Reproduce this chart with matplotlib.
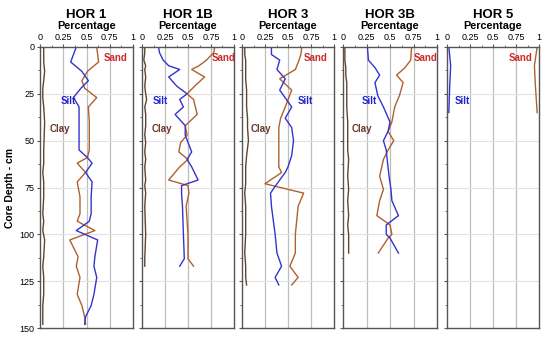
import matplotlib.pyplot as plt
import numpy as np

plt.rcParams['font.family'] = ['Liberation Sans', 'DejaVu Sans']

titles = ['HOR 1', 'HOR 1B', 'HOR 3', 'HOR 3B', 'HOR 5']

# HOR 1
d1 = [0, 8, 13, 18, 22, 27, 32, 40, 55, 59, 62, 67, 72, 80, 89, 93, 98, 103, 112, 117, 123, 132, 138, 144, 148]
sand1 = [0.61, 0.63, 0.51, 0.45, 0.48, 0.61, 0.52, 0.53, 0.53, 0.51, 0.40, 0.49, 0.40, 0.43, 0.43, 0.40, 0.59, 0.32, 0.41, 0.39, 0.43, 0.40, 0.45, 0.48, 0.49]
silt1 = [0.39, 0.33, 0.45, 0.52, 0.44, 0.36, 0.42, 0.42, 0.42, 0.51, 0.56, 0.49, 0.56, 0.55, 0.55, 0.53, 0.39, 0.62, 0.59, 0.58, 0.61, 0.58, 0.55, 0.49, 0.48]
clay1 = [0.04, 0.04, 0.05, 0.04, 0.03, 0.03, 0.04, 0.05, 0.04, 0.04, 0.04, 0.03, 0.04, 0.04, 0.03, 0.04, 0.03, 0.05, 0.04, 0.03, 0.04, 0.04, 0.03, 0.03, 0.03]

# HOR 1B
d2 = [0, 3, 7, 10, 12, 16, 21, 25, 28, 32, 36, 42, 47, 51, 56, 60, 64, 71, 74, 78, 85, 100, 113, 117]
sand2 = [0.79, 0.78, 0.70, 0.62, 0.54, 0.68, 0.57, 0.49, 0.56, 0.58, 0.60, 0.47, 0.49, 0.42, 0.40, 0.50, 0.41, 0.29, 0.50, 0.51, 0.48, 0.50, 0.50, 0.56]
silt2 = [0.18, 0.19, 0.23, 0.29, 0.41, 0.29, 0.38, 0.49, 0.41, 0.45, 0.36, 0.47, 0.47, 0.50, 0.54, 0.49, 0.54, 0.61, 0.43, 0.43, 0.44, 0.45, 0.46, 0.41]
clay2 = [0.03, 0.03, 0.02, 0.04, 0.03, 0.04, 0.03, 0.04, 0.05, 0.03, 0.04, 0.04, 0.03, 0.04, 0.03, 0.04, 0.03, 0.04, 0.03, 0.04, 0.03, 0.04, 0.03, 0.03]

# HOR 3
d3 = [0, 4, 7, 12, 17, 23, 32, 38, 43, 50, 58, 64, 67, 73, 78, 85, 100, 110, 117, 123, 127]
sand3 = [0.65, 0.64, 0.62, 0.58, 0.41, 0.54, 0.47, 0.42, 0.40, 0.40, 0.40, 0.40, 0.43, 0.25, 0.67, 0.61, 0.58, 0.58, 0.52, 0.61, 0.54]
silt3 = [0.32, 0.32, 0.41, 0.38, 0.47, 0.41, 0.54, 0.47, 0.54, 0.56, 0.54, 0.50, 0.47, 0.38, 0.31, 0.32, 0.36, 0.38, 0.43, 0.36, 0.40]
clay3 = [0.03, 0.03, 0.04, 0.04, 0.04, 0.05, 0.05, 0.06, 0.06, 0.07, 0.05, 0.04, 0.04, 0.04, 0.03, 0.04, 0.04, 0.03, 0.04, 0.04, 0.05]

# HOR 3B
d4 = [0, 7, 11, 15, 19, 26, 32, 40, 45, 50, 55, 60, 69, 76, 82, 90, 95, 100, 102, 110]
sand4 = [0.73, 0.72, 0.66, 0.57, 0.64, 0.60, 0.55, 0.52, 0.48, 0.54, 0.48, 0.43, 0.39, 0.43, 0.39, 0.36, 0.50, 0.52, 0.48, 0.375]
silt4 = [0.26, 0.27, 0.34, 0.39, 0.34, 0.37, 0.43, 0.50, 0.48, 0.43, 0.46, 0.47, 0.49, 0.51, 0.52, 0.59, 0.46, 0.46, 0.50, 0.59]
clay4 = [0.02, 0.02, 0.03, 0.03, 0.04, 0.04, 0.04, 0.05, 0.05, 0.05, 0.05, 0.06, 0.05, 0.06, 0.05, 0.06, 0.05, 0.06, 0.06, 0.06]

# HOR 5
d5 = [0, 10, 20, 35]
sand5 = [0.98, 0.95, 0.96, 0.98]
silt5 = [0.02, 0.04, 0.03, 0.02]
clay5 = None

depths = [d1, d2, d3, d4, d5]
sands = [sand1, sand2, sand3, sand4, sand5]
silts = [silt1, silt2, silt3, silt4, silt5]
clays = [clay1, clay2, clay3, clay4, clay5]

# label x positions (percentage) per panel
sand_lx = [0.68, 0.76, 0.67, 0.75, 0.67]
silt_lx = [0.22, 0.12, 0.61, 0.20, 0.08]
clay_lx = [0.10, 0.11, 0.09, 0.09, None]

sand_c, sand_tc = '#b0602e', '#cc2b2b'
silt_c, silt_tc = '#3434cc', '#2424cc'
clay_c, clay_tc = '#5e4434', '#6a3a2e'

fig = plt.figure(figsize=(5.5, 3.39), dpi=100)
lefts = [40, 142, 242, 343, 447]
rights = [133, 234, 334, 437, 539]
top, bot = 47, 328

for i in range(5):
    l, r = lefts[i], rights[i]
    ax = fig.add_axes([l / 550, 1 - bot / 339, (r - l) / 550, (bot - top) / 339])
    ax.set_xlim(0, 1)
    ax.set_ylim(150, 0)
    for x in [0.25, 0.5, 0.75]:
        ax.axvline(x, color='#bdbdbd', lw=0.9, zorder=0)
    for y in [25, 50, 75, 100, 125]:
        ax.axhline(y, color='#e2e2e2', lw=0.8, zorder=0)

    ax.plot(sands[i], depths[i], color=sand_c, lw=1.0)
    ax.plot(silts[i], depths[i], color=silt_c, lw=1.0)
    if clays[i] is not None:
        ax.plot(clays[i], depths[i], color=clay_c, lw=1.0)

    ax.text(sand_lx[i], 6, 'Sand', color=sand_tc, fontsize=7, fontweight='bold', va='center')
    ax.text(silt_lx[i], 29, 'Silt', color=silt_tc, fontsize=7, fontweight='bold', va='center')
    if clay_lx[i] is not None:
        ax.text(clay_lx[i], 44, 'Clay', color=clay_tc, fontsize=7, fontweight='bold', va='center')

    ax.xaxis.tick_top()
    ax.set_xticks([0, 0.25, 0.5, 0.75, 1])
    ax.set_xticklabels(['0', '0.25', '0.5', '0.75', '1'])
    ax.set_xticks(np.arange(0.125, 1, 0.25), minor=True)
    ax.tick_params(axis='x', which='major', labelsize=6.5, length=2.5, pad=1, color='#555555')
    ax.tick_params(axis='x', which='minor', length=1.5, color='#555555')
    ax.set_yticks([0, 25, 50, 75, 100, 125, 150])
    ax.set_yticks(np.arange(12.5, 150, 25), minor=True)
    ax.tick_params(axis='y', which='major', labelsize=6.5, length=2.5, pad=1.5, color='#555555')
    ax.tick_params(axis='y', which='minor', length=1.5, color='#555555')
    if i > 0:
        ax.tick_params(axis='y', which='both', labelleft=False)
    else:
        ax.set_ylabel('Core Depth - cm', fontsize=7.5, fontweight='bold', labelpad=3)
    for s in ax.spines.values():
        s.set_color('#555555')
        s.set_linewidth(1.0)

    ax.text(0.5, 1.115, titles[i], transform=ax.transAxes, ha='center', va='center',
            fontsize=9.5, fontweight='bold')
    ax.text(0.5, 1.076, 'Percentage', transform=ax.transAxes, ha='center', va='center',
            fontsize=7.8, fontweight='bold')

fig.savefig('out.png', dpi=100)
